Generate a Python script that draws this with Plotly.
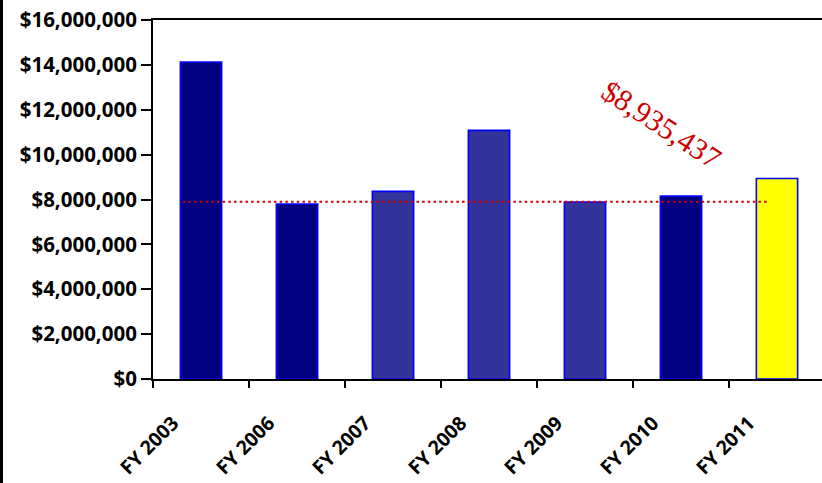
import plotly.graph_objects as go

categories = ["FY 2003", "FY 2006", "FY 2007", "FY 2008", "FY 2009", "FY 2010", "FY 2011"]
values = [14130000, 7800000, 8360000, 11080000, 7890000, 8150000, 8935437]
bar_colors = ["#000080", "#000080", "#333399", "#333399", "#333399", "#000080", "#FFFF00"]
ref_line_value = 7900000
ref_line_start = -0.19
ref_line_end = 5.91
y_ticks = [0, 2000000, 4000000, 6000000, 8000000, 10000000, 12000000, 14000000, 16000000]
y_tick_labels = ["${:,}".format(v) for v in y_ticks]

W, H = 822, 483
L, R, T, B = 153, 0, 20, 104
pw, ph = W - L - R, H - T - B
cat_px = 96.0
x_hi = -0.5 + pw / cat_px

fig = go.Figure()
fig.add_trace(go.Bar(
    x=categories, y=values, width=0.43,
    marker=dict(color=bar_colors, line=dict(color="#0000FF", width=1.6)),
    showlegend=False, hoverinfo="skip",
))

fig.add_shape(type="line", xref="x", yref="y",
              x0=ref_line_start, x1=ref_line_end, y0=ref_line_value, y1=ref_line_value,
              line=dict(color="#CC0000", width=2, dash="2.5px,3.2px"))

# left black border strip
fig.add_shape(type="rect", xref="paper", yref="paper",
              x0=-L / pw, x1=-(L - 3) / pw, y0=-B / ph, y1=1 + T / ph,
              fillcolor="black", line=dict(width=0), layer="above")

fig.add_annotation(x=4.80, y=11340000, xref="x", yref="y",
                   text="${:,}".format(values[-1]), showarrow=False, textangle=33,
                   font=dict(family="Liberation Serif", size=30, color="#CC0000"))

fig.update_layout(
    width=W, height=H, margin=dict(l=L, r=R, t=T, b=B, autoexpand=False),
    paper_bgcolor="white", plot_bgcolor="white",
)
fig.update_xaxes(
    type="category", range=[-0.5, x_hi], tickson="boundaries", automargin=False,
    showline=True, linecolor="black", linewidth=2, mirror=True,
    ticks="outside", ticklen=7, tickwidth=2, tickcolor="black",
    tickangle=-45, tickfont=dict(family="Open Sans", size=19.5, color="black", weight="bold"),
    ticklabelshift=-28, ticklabelstandoff=23,
    showgrid=False, zeroline=False,
)
fig.update_yaxes(
    range=[0, 16000000], tickvals=y_ticks, ticktext=y_tick_labels, automargin=False,
    showline=True, linecolor="black", linewidth=2,
    ticks="outside", ticklen=10, tickwidth=2, tickcolor="black",
    tickfont=dict(family="Open Sans", size=20.5, color="black", weight="bold"),
    showgrid=False, zeroline=False,
)

fig.write_html("out.html", config={"displayModeBar": False},
               post_script="document.body.style.margin='0';document.body.style.padding='0';")
